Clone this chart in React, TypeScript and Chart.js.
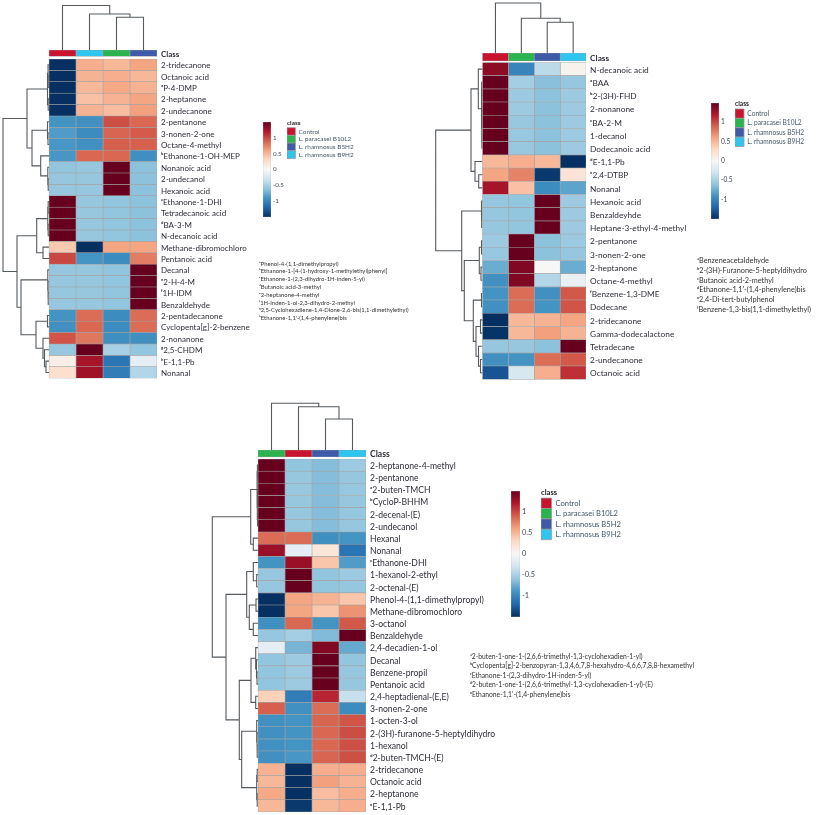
import React, { useEffect, useRef } from "react";
import { Chart, registerables } from "chart.js";

Chart.register(...registerables);

const FONT = "Lato, 'Noto Sans', sans-serif";
const classNames = ["Control", "L. paracasei B10L2", "L. rhamnosus B5H2", "L. rhamnosus B9H2"];
const classColors = ["#c8142f", "#2bb350", "#3f5aa8", "#2ec6ef"];
const rdBuStops = ["#053061", "#2166ac", "#4393c3", "#92c5de", "#d1e5f0", "#f7f7f7", "#fddbc7", "#f4a582", "#d6604d", "#b2182b", "#67001f"];
const colorbarTicks = [1, 0.5, 0, -0.5, -1];

/* ---------- Panel A ---------- */
const rowsA = ["2-tridecanone", "Octanoic acid", "ᵃP-4-DMP", "2-heptanone", "2-undecanone", "2-pentanone", "3-nonen-2-one", "Octane-4-methyl", "ᵇEthanone-1-OH-MEP", "Nonanoic acid", "2-undecanol", "Hexanoic acid", "ᶜEthanone-1-DHI", "Tetradecanoic acid", "ᵈBA-3-M", "N-decanoic acid", "Methane-dibromochloro", "Pentanoic acid", "Decanal", "ᵉ2-H-4-M", "ᶠ1H-IDM", "Benzaldehyde", "2-pentadecanone", "Cyclopenta[g]-2-benzene", "2-nonanone", "ᵍ2,5-CHDM", "ʰE-1,1-Pb", "Nonanal"];
const classOrderA = [0, 3, 1, 2];
const valuesA = [
  [-1.5, 0.55, 0.5, 0.6], [-1.5, 0.52, 0.55, 0.5], [-1.5, 0.5, 0.58, 0.52], [-1.5, 0.45, 0.53, 0.6], [-1.5, 0.52, 0.47, 0.62],
  [-0.9, -0.92, 0.97, 0.87], [-0.85, -0.95, 0.88, 0.92], [-0.88, -0.92, 0.9, 0.9], [-0.88, 0.87, 0.87, -0.93],
  [-0.6, -0.58, 1.5, -0.62], [-0.58, -0.58, 1.5, -0.62], [-0.58, -0.58, 1.5, -0.62],
  [1.5, -0.58, -0.6, -0.62], [1.5, -0.58, -0.6, -0.62], [1.5, -0.58, -0.6, -0.62], [1.5, -0.58, -0.6, -0.62],
  [0.4, -1.5, 0.6, 0.6], [1.0, -0.9, -0.95, 0.78],
  [-0.58, -0.58, -0.6, 1.5], [-0.58, -0.58, -0.6, 1.5], [-0.58, -0.58, -0.6, 1.5], [-0.58, -0.58, -0.6, 1.5],
  [-0.9, 0.85, -0.95, 0.85], [-0.92, 0.87, -0.95, 0.85], [0.95, 0.8, -0.93, -0.93], [-0.58, 1.5, -0.5, -0.6],
  [0.1, 1.25, -1.1, -0.15], [0.25, 1.27, -1.05, -0.45],
];
const rowTreeA = [46,
  [22, [1.5, [1, 0, [0.7, 1, 2]], [0.8, 3, 4]],
    [17, [1.5, 5, [1, 6, 7]], [8.3, 8, [1.2, 9, [0.8, 10, 11]]]]],
  [32, [12.3, [1.2, [0.8, 12, 13], [0.8, 14, 15]], [6, 16, 17]],
    [28, [1.2, 18, [1, 19, [0.8, 20, 21]]],
      [13, [1.5, 22, 23], [6, 24, [4.5, 25, [3, 26, 27]]]]]]];
const colTreeA = [44.5, 0, [36, 1, [32.7, 2, 3]]];
const notesA = ["ᵃPhenol-4-(1,1-dimethylpropyl)", "ᵇEthanone-1-[4-(1-hydroxy-1-methylethyl)phenyl]", "ᶜEthanone-1-(2,3-dihydro-1H-inden-5-yl)", "ᵈButanoic acid-3-methyl", "ᵉ2-heptanone-4-methyl", "ᶠ1H-Inden-1-ol-2,3-dihydro-2-methyl", "ᵍ2,5-Cyclohexadiene-1,4-Dione-2,6-bis(1,1-dimethylethyl)", "ʰEthanone-1,1'-(1,4-phenylene)bis"];

/* ---------- Panel B ---------- */
const rowsB = ["N-decanoic acid", "ᵃBAA", "ᵇ2-(3H)-FHD", "2-nonanone", "ᶜBA-2-M", "1-decanol", "Dodecanoic acid", "ᵈE-1,1-Pb", "ᵉ2,4-DTBP", "Nonanal", "Hexanoic acid", "Benzaldeyhde", "Heptane-3-ethyl-4-methyl", "2-pentanone", "3-nonen-2-one", "2-heptanone", "Octane-4-methyl", "ᶠBenzene-1,3-DME", "Dodecane", "2-tridecanone", "Gamma-dodecalactone", "Tetradecane", "2-undecanone", "Octanoic acid"];
const classOrderB = [0, 1, 2, 3];
const valuesB = [
  [1.35, -1.0, -0.4, 0.05], [1.5, -0.52, -0.63, -0.58], [1.5, -0.55, -0.62, -0.55], [1.5, -0.55, -0.62, -0.55], [1.5, -0.57, -0.62, -0.55], [1.5, -0.57, -0.62, -0.55], [1.5, -0.57, -0.62, -0.55],
  [0.5, 0.55, 0.5, -1.5], [0.6, 0.75, -1.45, 0.2], [1.25, 0.45, -0.95, -0.8],
  [-0.58, -0.6, 1.5, -0.55], [-0.58, -0.6, 1.5, -0.55], [-0.58, -0.6, 1.5, -0.55],
  [-0.55, 1.5, -0.62, -0.56], [-0.57, 1.5, -0.62, -0.58], [-0.75, 1.4, 0, -0.75], [-0.92, 1.4, -0.45, -0.12],
  [-0.9, 0.85, -0.92, 0.93], [-0.92, 0.85, -0.9, 0.95], [-1.5, 0.5, 0.52, 0.6], [-1.48, 0.5, 0.62, 0.52],
  [-0.58, -0.58, -0.62, 1.5], [-0.92, -0.9, 0.85, 0.93], [-1.3, -0.25, 0.55, 1.1],
];
const rowTreeB = [46.8,
  [11.5, [4.2, 0, [1, [0.8, 1, 2], [0.8, [0.6, 3, 4], [0.6, 5, 6]]]], [7.5, 7, [3.8, 8, 9]]],
  [20.8, [1, 10, [0.8, 11, 12]],
    [18.2, [3.2, [1, 13, 14], [1.5, 15, 16]],
      [9.2, [1, 17, 18], [6.5, [2, 19, 20], [4, 21, [2, 22, 23]]]]]]];
const colTreeB = [50, 0, [34.7, 1, [30.7, 2, 3]]];
const notesB = ["ᵃBenzeneacetaldehyde", "ᵇ2-(3H)-Furanone-5-heptyldihydro", "ᶜButanoic acid-2-methyl", "ᵈEthanone-1,1'-(1,4-phenylene)bis", "ᵉ2,4-Di-tert-butylphenol", "ᶠBenzene-1,3-bis(1,1-dimethylethyl)"];

/* ---------- Panel C ---------- */
const rowsC = ["2-heptanone-4-methyl", "2-pentanone", "ᵃ2-buten-TMCH", "ᵇCycloP-BHHM", "2-decenal-(E)", "2-undecanol", "Hexanal", "Nonanal", "ᶜEthanone-DHI", "1-hexanol-2-ethyl", "2-octenal-(E)", "Phenol-4-(1,1-dimethylpropyl)", "Methane-dibromochloro", "3-octanol", "Benzaldehyde", "2,4-decadien-1-ol", "Decanal", "Benzene-propil", "Pentanoic acid", "2,4-heptadienal-(E,E)", "3-nonen-2-one", "1-octen-3-ol", "2-(3H)-furanone-5-heptyldihydro", "1-hexanol", "ᵈ2-buten-TMCH-(E)", "2-tridecanone", "Octanoic acid", "2-heptanone", "ᵉE-1,1-Pb"];
const classOrderC = [1, 0, 2, 3];
const valuesC = [
  [1.5, -0.6, -0.65, -0.55], [1.5, -0.58, -0.65, -0.58], [1.5, -0.58, -0.65, -0.58], [1.5, -0.58, -0.65, -0.58], [1.5, -0.58, -0.65, -0.58], [1.5, -0.58, -0.65, -0.58],
  [0.85, 0.85, -0.93, -0.9], [1.3, -0.15, 0.18, -1.1], [-0.9, 1.3, 0.42, -0.85], [-0.58, 1.5, -0.6, -0.55], [-0.58, 1.5, -0.6, -0.58],
  [-1.5, 0.6, 0.52, 0.42], [-1.5, 0.6, 0.42, 0.68], [-0.93, 0.87, -0.9, 0.93], [-0.58, -0.52, -0.66, 1.5],
  [-0.15, -0.7, 1.4, -0.77], [-0.6, -0.55, 1.5, -0.6], [-0.6, -0.55, 1.5, -0.58], [-0.6, -0.55, 1.5, -0.58],
  [0.35, -1.05, 1.15, -0.35], [0.9, -0.92, 0.85, -0.95],
  [-0.92, -0.9, 0.88, 0.95], [-0.92, -0.9, 0.87, 0.98], [-0.92, -0.9, 0.87, 0.97], [-0.92, -0.88, 0.88, 0.97],
  [0.53, -1.5, 0.55, 0.55], [0.5, -1.5, 0.62, 0.53], [0.58, -1.5, 0.47, 0.55], [0.5, -1.45, 0.5, 0.55],
];
const rowTreeC = [45.7,
  [7.3, [1, [0.6, 0, 1], [0.8, [0.5, 2, 3], [0.5, 4, 5]]], [4.7, 6, 7]],
  [32, [11.3, [4.7, 8, [1.3, 9, 10]], [8.7, [2, 11, 12], [4.7, 13, 14]]],
    [18.7, [7, [2.3, 15, [1.5, 16, [1, 17, 18]]], [2.3, 19, 20]],
      [16.3, [1.3, 21, [1, 22, [0.8, 23, 24]]], [1.3, [0.8, 25, 26], [0.8, 27, 28]]]]]];
const colTreeC = [46.7, 0, [43.3, 1, [31, 2, 3]]];
const notesC = ["ᵃ2-buten-1-one-1-(2,6,6-trimethyl-1,3-cyclohexadien-1-yl)", "ᵇCyclopenta[g]-2-benzopyran-1,3,4,6,7,8-hexahydro-4,6,6,7,8,8-hexamethyl", "ᶜEthanone-1-(2,3-dihydro-1H-inden-5-yl)", "ᵈ2-buten-1-one-1-(2,6,6-trimethyl-1,3-cyclohexadien-1-yl)-(E)", "ᵉEthanone-1,1'-(1,4-phenylene)bis"];

const panels = [
  {
    rows: rowsA, values: valuesA, order: classOrderA, rowTree: rowTreeA, colTree: colTreeA, notes: notesA,
    box: { left: 0, top: 0, width: 300, height: 385 }, heatLeft: 49, heatTop: 59, colW: 27, rowH: 11.4, classTop: 50, classH: 6.3, labelSize: 8,
    bar: { left: 262.7, top: 121.7, width: 8.3, height: 95.6, size: 6.2 },
    legend: { left: 286.5, top: 120, size: 6.4, box: 8.4, step: 7.7 },
    note: { left: 259, top: 259.5, size: 5.9, line: 7.8 },
  },
  {
    rows: rowsB, values: valuesB, order: classOrderB, rowTree: rowTreeB, colTree: colTreeB, notes: notesB,
    box: { left: 430, top: 0, width: 300, height: 385 }, heatLeft: 52.5, heatTop: 62.5, colW: 25.9, rowH: 13.2, classTop: 53, classH: 8, labelSize: 8.3,
    bar: { left: 710.7, top: 103, width: 8.3, height: 116, size: 6.6 },
    legend: { left: 735, top: 101, size: 6.6, box: 9, step: 9.4 },
    note: { left: 697, top: 256, size: 7.3, line: 9.8 },
  },
  {
    rows: rowsC, values: valuesC, order: classOrderC, rowTree: rowTreeC, colTree: colTreeC, notes: notesC,
    box: { left: 205, top: 398, width: 320, height: 417 }, heatLeft: 53, heatTop: 61, colW: 27, rowH: 12.17, classTop: 52, classH: 7, labelSize: 8.6,
    bar: { left: 511, top: 491, width: 9.5, height: 126, size: 7.4 },
    legend: { left: 541, top: 488.5, size: 7.6, box: 10.6, step: 10.4 },
    note: { left: 470, top: 652, size: 6.75, line: 9.4 },
  },
];

function hexToRgb(h: string) {
  return [1, 3, 5].map((i) => parseInt(h.slice(i, i + 2), 16));
}
function zColor(z: number) {
  const t = Math.max(0, Math.min(1, (z + 1.5) / 3)) * (rdBuStops.length - 1);
  const i = Math.min(rdBuStops.length - 2, Math.floor(t));
  const a = hexToRgb(rdBuStops[i]);
  const b = hexToRgb(rdBuStops[i + 1]);
  const c = a.map((v, k) => Math.round(v + (b[k] - v) * (t - i)));
  return `rgb(${c[0]},${c[1]},${c[2]})`;
}

function walkTree(node: any, leafPos: (n: number) => number, place: (h: number, p: number) => any, out: any[]): { h: number; p: number } {
  if (typeof node === "number") return { h: 0, p: leafPos(node) };
  const [h, a, b] = node;
  const c1 = walkTree(a, leafPos, place, out);
  const c2 = walkTree(b, leafPos, place, out);
  out.push(place(c1.h, c1.p), place(h, c1.p), place(h, c2.p), place(c2.h, c2.p), { x: NaN, y: NaN });
  return { h, p: (c1.p + c2.p) / 2 };
}

const LINE = "#555a5e";
const CELL_EDGE = "#a3a3a3";

function heatChart(canvas: HTMLCanvasElement, p: any) {
  const { rows, values, order, box, heatLeft, heatTop, colW, rowH, classTop, classH } = p;
  const classY = (classTop + classH / 2 - heatTop) / rowH;
  const cols = [0, 1, 2, 3];
  const heatSets = cols.map((c) => ({
    type: "bar",
    indexAxis: "y",
    stack: "s",
    barThickness: rowH,
    borderColor: CELL_EDGE,
    borderWidth: 0.6,
    borderSkipped: false,
    backgroundColor: values.map((r: number[]) => zColor(r[c])),
    data: rows.map((_: string, i: number) => ({ x: [c, c + 1], y: i + 0.5 })),
  }));
  const classSet = {
    type: "bar",
    indexAxis: "y",
    stack: "s",
    barThickness: classH,
    borderColor: CELL_EDGE,
    borderWidth: 0.6,
    borderSkipped: false,
    backgroundColor: order.map((k: number) => classColors[k]),
    data: cols.map((c) => ({ x: [c, c + 1], y: classY })),
  };
  const rowLines: any[] = [];
  walkTree(p.rowTree, (n) => n + 0.5, (h, q) => ({ x: -h / colW, y: q }), rowLines);
  const colLines: any[] = [];
  walkTree(p.colTree, (n) => n + 0.5, (h, q) => ({ x: q, y: classY - classH / 2 / rowH - h / rowH }), colLines);
  const lineSet = (data: any[]) => ({ type: "scatter", showLine: true, pointRadius: 0, borderColor: LINE, borderWidth: 1.1, clip: false, spanGaps: false, data });

  const labelAt = new Map<number, string>();
  labelAt.set(classY, "Class");
  rows.forEach((r: string, i: number) => labelAt.set(i + 0.5, r));

  return new Chart(canvas, {
    type: "bar",
    data: { datasets: [...heatSets, classSet, lineSet(rowLines), lineSet(colLines)] as any },
    options: {
      responsive: false,
      animation: false,
      devicePixelRatio: 1,
      events: [],
      layout: { padding: 0 },
      plugins: { legend: { display: false }, tooltip: { enabled: false } },
      scales: {
        x: { type: "linear", display: false, offset: false, stacked: false, min: -heatLeft / colW, max: 4, grid: { display: false } },
        y: {
          type: "linear",
          position: "right",
          reverse: true,
          offset: false,
          min: -heatTop / rowH,
          max: (box.height - heatTop) / rowH,
          grid: { display: false, drawTicks: false },
          border: { display: false },
          afterBuildTicks: (s: any) => {
            s.ticks = [...labelAt.keys()].map((value) => ({ value }));
          },
          afterFit: (s: any) => {
            s.width = box.width - heatLeft - 4 * colW;
            s.paddingTop = 0;
            s.paddingBottom = 0;
          },
          ticks: {
            autoSkip: false,
            minRotation: 0,
            maxRotation: 0,
            padding: 4,
            labelOffset: 1,
            color: "#2e2e38",
            font: (ctx: any) => ({ family: FONT, size: p.labelSize, weight: ctx.tick && ctx.tick.value === classY ? "bold" : "normal" }),
            callback: (v: any) => labelAt.get(v) ?? "",
          },
        },
      },
    } as any,
  });
}

function barChart(canvas: HTMLCanvasElement, p: any) {
  const b = p.bar;
  return new Chart(canvas, {
    type: "bar",
    data: {
      labels: ["z"],
      datasets: [{
        data: [[-1.5, 1.5]],
        barPercentage: 1,
        categoryPercentage: 1,
        borderColor: CELL_EDGE,
        borderWidth: 0.5,
        borderSkipped: false,
        backgroundColor: (ctx: any) => {
          const area = ctx.chart.chartArea;
          if (!area) return rdBuStops[5];
          const g = ctx.chart.ctx.createLinearGradient(0, area.bottom, 0, area.top);
          rdBuStops.forEach((c, i) => g.addColorStop(i / (rdBuStops.length - 1), c));
          return g;
        },
      }] as any,
    },
    options: {
      responsive: false,
      animation: false,
      devicePixelRatio: 1,
      events: [],
      layout: { padding: 0 },
      plugins: { legend: { display: false }, tooltip: { enabled: false } },
      scales: {
        x: { display: false, grid: { display: false } },
        y: {
          position: "right",
          min: -1.5,
          max: 1.5,
          grid: { display: false, drawTicks: false },
          border: { display: false },
          afterBuildTicks: (s: any) => {
            s.ticks = colorbarTicks.map((value) => ({ value }));
          },
          afterFit: (s: any) => {
            s.width = 22;
            s.paddingTop = 0;
            s.paddingBottom = 0;
          },
          ticks: { padding: 2, color: "#3d4a55", font: { family: FONT, size: b.size }, callback: (v: any) => String(v) },
        },
      },
    } as any,
  });
}

function legendChart(canvas: HTMLCanvasElement, p: any) {
  const l = p.legend;
  return new Chart(canvas, {
    type: "bar",
    data: {
      labels: [],
      datasets: classNames.map((name, i) => ({ label: name, data: [], backgroundColor: classColors[i], borderColor: "#9a9a9a", borderWidth: 0.8 })),
    },
    options: {
      responsive: false,
      animation: false,
      devicePixelRatio: 1,
      events: [],
      layout: { padding: 0 },
      scales: { x: { display: false }, y: { display: false } },
      plugins: {
        tooltip: { enabled: false },
        legend: {
          position: "left",
          align: "start",
          maxWidth: 200,
          title: { display: true, text: "class", position: "start", color: "#222", padding: { top: 0, bottom: 0 }, font: { family: FONT, size: l.size, weight: "bold" } },
          labels: { boxWidth: l.box, boxHeight: l.step, padding: 0, color: "#44586a", font: { family: FONT, size: l.size } },
        },
      },
    } as any,
  });
}

const abs = (b: any): React.CSSProperties => ({ position: "absolute", left: b.left, top: b.top, display: "block" });

export default function App() {
  const holder = useRef<HTMLDivElement>(null);

  useEffect(() => {
    const root = holder.current!;
    const charts = panels.flatMap((p, i) => [
      heatChart(root.querySelector(`#heat${i}`) as HTMLCanvasElement, p),
      barChart(root.querySelector(`#bar${i}`) as HTMLCanvasElement, p),
      legendChart(root.querySelector(`#leg${i}`) as HTMLCanvasElement, p),
    ]);
    return () => charts.forEach((c) => c.destroy());
  }, []);

  return (
    <div ref={holder} style={{ position: "fixed", left: 0, top: 0, width: 817, height: 815, background: "#fff", overflow: "hidden" }}>
      {panels.map((p, i) => (
        <React.Fragment key={i}>
          <canvas id={`heat${i}`} width={p.box.width} height={p.box.height} style={abs(p.box)} />
          <canvas id={`bar${i}`} width={p.bar.width + 22} height={p.bar.height} style={abs(p.bar)} />
          <canvas id={`leg${i}`} width={160} height={60} style={abs(p.legend)} />
          {p.notes.map((n, k) => (
            <div key={k} style={{ position: "absolute", left: p.note.left, top: p.note.top + k * p.note.line, fontFamily: FONT, fontSize: p.note.size, lineHeight: `${p.note.line}px`, color: "#333", whiteSpace: "nowrap" }}>
              {n}
            </div>
          ))}
        </React.Fragment>
      ))}
    </div>
  );
}
